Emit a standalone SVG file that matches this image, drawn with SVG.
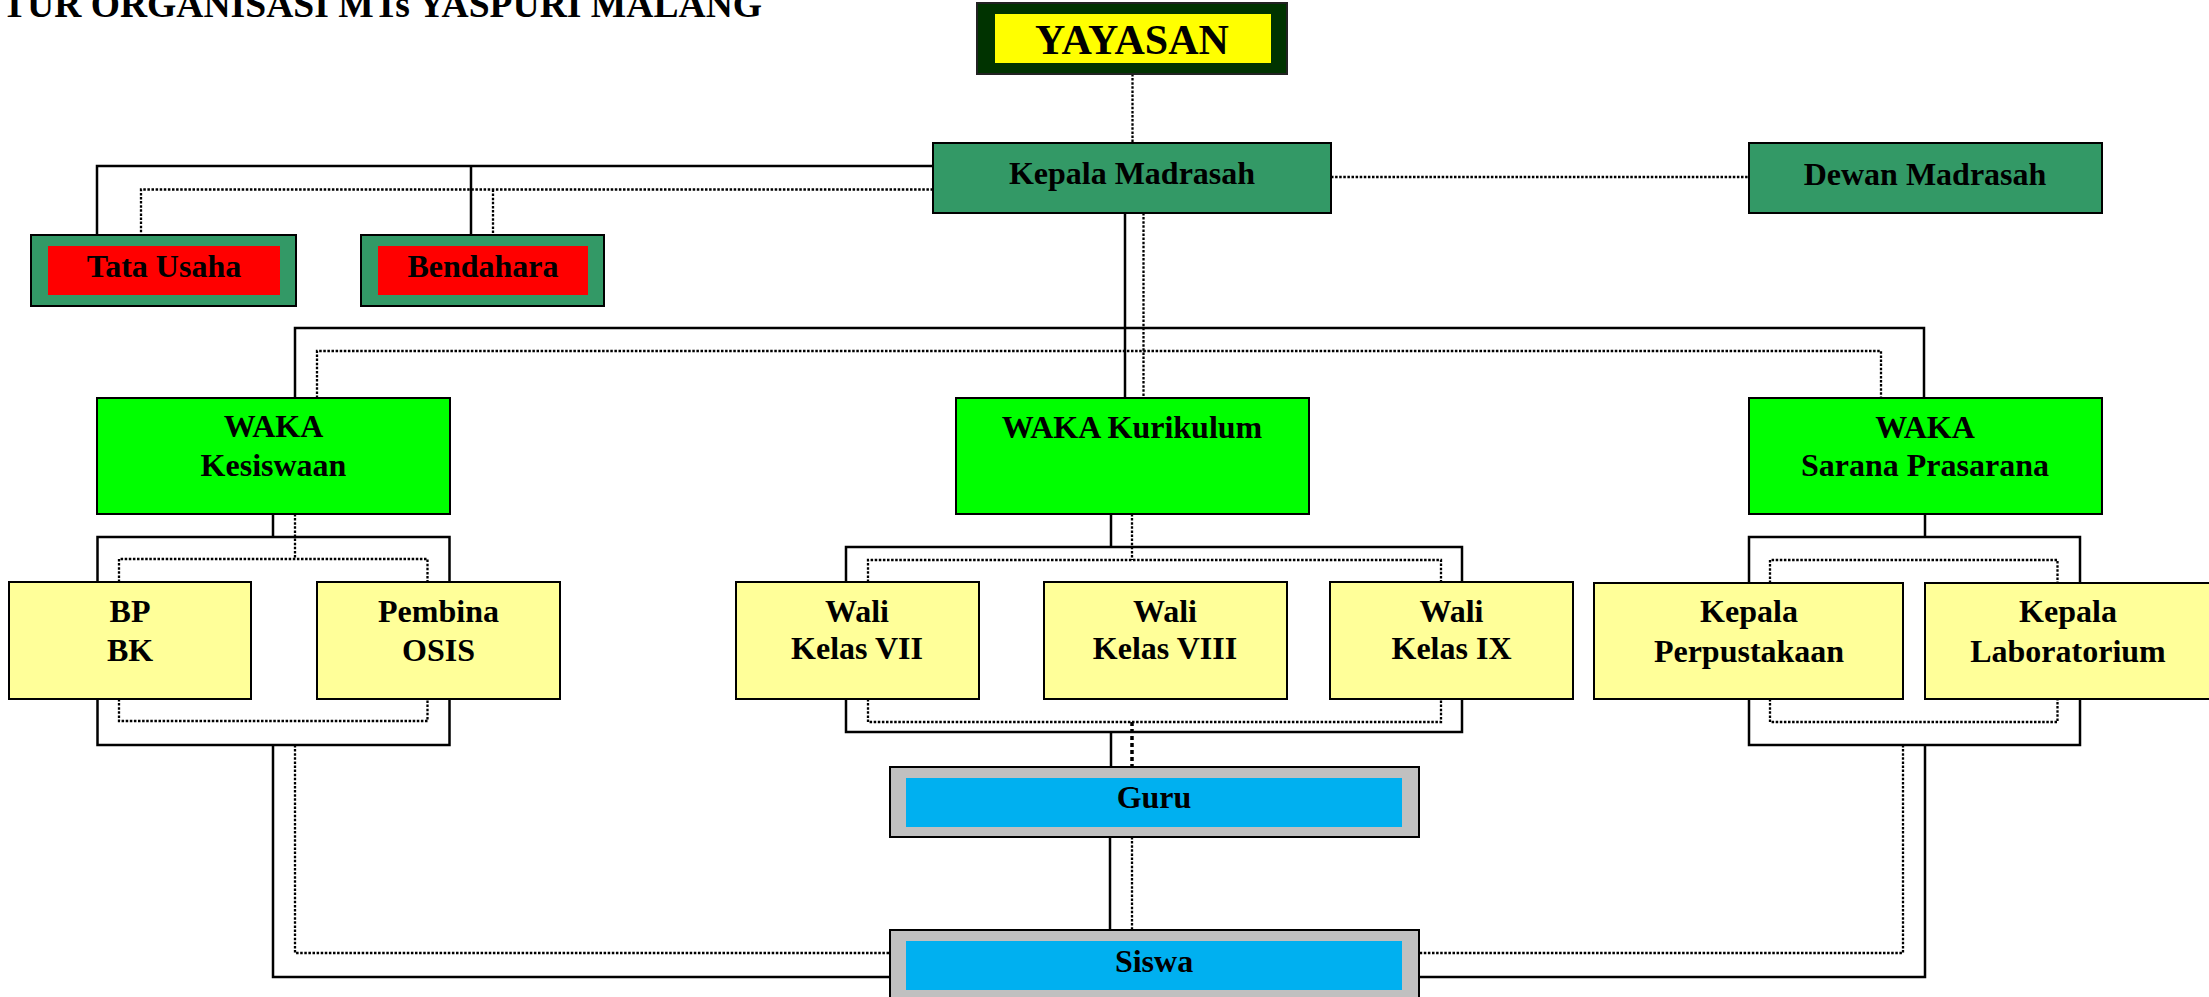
<svg xmlns="http://www.w3.org/2000/svg" width="2209" height="997" viewBox="0 0 2209 997">
<style>
text{font-family:"Liberation Serif","Times New Roman",serif;font-weight:bold;fill:#000;text-anchor:middle}
.t32{font-size:32px}
.box{stroke:#000;stroke-width:2}
.kep{fill:#339966}
.waka{fill:#00FF00}
.yel{fill:#FFFF99}
.red{fill:#FF0000}
.gray{fill:#C0C0C0}
.blue{fill:#00B0F0}
.solid{fill:none;stroke:#000;stroke-width:2.5}
.dot{fill:none;stroke:#000;stroke-width:2.3;stroke-dasharray:2.5 1.6}
.dotb{fill:none;stroke:#000;stroke-width:3.5;stroke-dasharray:4 3}
</style>
<rect width="2209" height="997" fill="#fff"/>
<text x="2" y="16.5" style="font-size:37.6px;text-anchor:start">TUR ORGANISASI MTs YASPURI MALANG</text>

<g id="connectors">
  <path class="dot" d="M1132.5 74V142"/>
  <path class="dot" d="M1331 177H1749"/>
  <path class="solid" d="M933 166H97V235M471 166V235"/>
  <path class="dot" d="M933 189.5H141V235M493 189.5V235"/>
  <path class="solid" d="M1125 213V398M295 398V328H1924V398"/>
  <path class="dot" d="M1143.5 213V398M317 398V351H1881V398"/>
  <path class="solid" d="M273 514V537M97.5 582V537H449.5V582M97.5 699V745H449.5V699"/>
  <path class="dot" d="M295 514V559M119 582V559H427.5V582M119 699V721H427.5V699"/>
  <path class="solid" d="M273 745V977H890"/>
  <path class="dot" d="M295 745V953H890"/>
  <path class="solid" d="M1111 514V547M846 582V547H1462V582M846 699V732H1462V699"/>
  <path class="dot" d="M1132 514V560M868 582V560H1441V582M868 699V722H1441V699"/>
  <path class="solid" d="M1111 732V767"/>
  <path class="dotb" d="M1132 722V767"/>
  <path class="solid" d="M1110 837V930"/>
  <path class="dot" d="M1132 837V930"/>
  <path class="solid" d="M1925 514V537M1749 583V537H2080V583M1749 699V745H2080V699"/>
  <path class="dot" d="M1770 583V560H2057.5V583M1770 699V722H2057.5V699"/>
  <path class="solid" d="M1925 745V977H1419"/>
  <path class="dot" d="M1903 745V953H1419"/>
</g>

<g id="yayasan">
  <rect x="977" y="3" width="310" height="71" fill="#003300" stroke="#222" stroke-width="2"/>
  <rect x="995" y="14" width="276" height="49" fill="#FFFF00"/>
  <text x="1132" y="54" style="font-size:42px">YAYASAN</text>
</g>
<g id="kepala-madrasah">
  <rect class="box kep" x="933" y="143" width="398" height="70"/>
  <text class="t32" x="1132" y="184">Kepala Madrasah</text>
</g>
<g id="dewan-madrasah">
  <rect class="box kep" x="1749" y="143" width="353" height="70"/>
  <text class="t32" x="1925" y="185">Dewan Madrasah</text>
</g>
<g id="tata-usaha">
  <rect class="box kep" x="31" y="235" width="265" height="71"/>
  <rect class="red" x="48" y="246" width="232" height="49"/>
  <text class="t32" x="164" y="277">Tata Usaha</text>
</g>
<g id="bendahara">
  <rect class="box kep" x="361" y="235" width="243" height="71"/>
  <rect class="red" x="378" y="246" width="210" height="49"/>
  <text class="t32" x="483" y="277">Bendahara</text>
</g>
<g id="waka-kesiswaan">
  <rect class="box waka" x="97" y="398" width="353" height="116"/>
  <text class="t32" x="273.5" y="437">WAKA</text>
  <text class="t32" x="273.5" y="476">Kesiswaan</text>
</g>
<g id="waka-kurikulum">
  <rect class="box waka" x="956" y="398" width="353" height="116"/>
  <text class="t32" x="1132" y="438">WAKA Kurikulum</text>
</g>
<g id="waka-sarana">
  <rect class="box waka" x="1749" y="398" width="353" height="116"/>
  <text class="t32" x="1925" y="438">WAKA</text>
  <text class="t32" x="1925" y="476">Sarana Prasarana</text>
</g>
<g id="bp-bk">
  <rect class="box yel" x="9" y="582" width="242" height="117"/>
  <text class="t32" x="130" y="622">BP</text>
  <text class="t32" x="130" y="661">BK</text>
</g>
<g id="pembina-osis">
  <rect class="box yel" x="317" y="582" width="243" height="117"/>
  <text class="t32" x="438.5" y="622">Pembina</text>
  <text class="t32" x="438.5" y="661">OSIS</text>
</g>
<g id="wali-7">
  <rect class="box yel" x="736" y="582" width="243" height="117"/>
  <text class="t32" x="857" y="622">Wali</text>
  <text class="t32" x="857" y="659">Kelas VII</text>
</g>
<g id="wali-8">
  <rect class="box yel" x="1044" y="582" width="243" height="117"/>
  <text class="t32" x="1165" y="622">Wali</text>
  <text class="t32" x="1165" y="659">Kelas VIII</text>
</g>
<g id="wali-9">
  <rect class="box yel" x="1330" y="582" width="243" height="117"/>
  <text class="t32" x="1451.5" y="622">Wali</text>
  <text class="t32" x="1451.5" y="659">Kelas IX</text>
</g>
<g id="kepala-perpustakaan">
  <rect class="box yel" x="1594" y="583" width="309" height="116"/>
  <text class="t32" x="1749" y="622">Kepala</text>
  <text class="t32" x="1749" y="662">Perpustakaan</text>
</g>
<g id="kepala-laboratorium">
  <rect class="box yel" x="1925" y="583" width="288" height="116"/>
  <text class="t32" x="2068" y="622">Kepala</text>
  <text class="t32" x="2068" y="662">Laboratorium</text>
</g>
<g id="guru">
  <rect class="box gray" x="890" y="767" width="529" height="70"/>
  <rect class="blue" x="906" y="778" width="496" height="49"/>
  <text class="t32" x="1154" y="808">Guru</text>
</g>
<g id="siswa">
  <rect class="box gray" x="890" y="930" width="529" height="72"/>
  <rect class="blue" x="906" y="941" width="496" height="49"/>
  <text class="t32" x="1154" y="972">Siswa</text>
</g>
</svg>
